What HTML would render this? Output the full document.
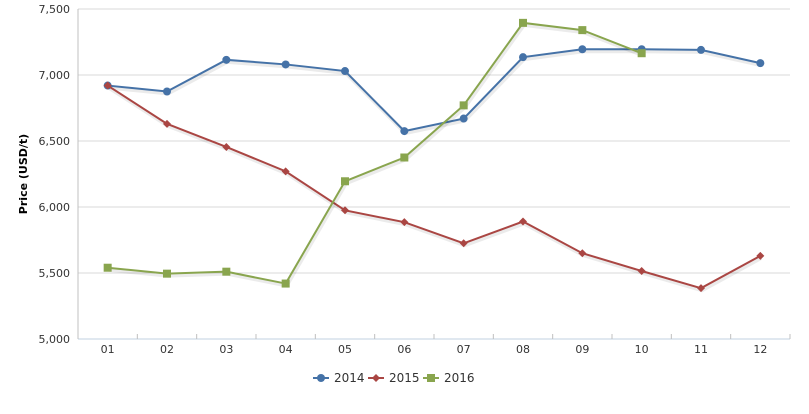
<!DOCTYPE html>
<html><head><meta charset="utf-8"><style>
body{margin:0;background:#fff;font-family:"DejaVu Sans","Liberation Sans",sans-serif;}
svg text{font-family:"DejaVu Sans","Liberation Sans",sans-serif;}
</style></head><body>
<svg id="chart" width="809" height="410" xmlns="http://www.w3.org/2000/svg"></svg>
<script>
const categories=["01","02","03","04","05","06","07","08","09","10","11","12"];
const s2014=[6920,6875,7115,7080,7030,6575,6670,7135,7195,7195,7190,7090];
const s2015=[6920,6630,6455,6270,5975,5885,5725,5890,5650,5515,5385,5630];
const s2016=[5540,5495,5510,5420,6195,6375,6770,7395,7340,7165];
const yTicks=[5000,5500,6000,6500,7000,7500];
const yTickLabels=["5,000","5,500","6,000","6,500","7,000","7,500"];
const seriesNames=["2014","2015","2016"];
const NS="http://www.w3.org/2000/svg";
const svg=document.getElementById('chart');
const L=78,R=790,T=9,B=339,yMin=5000,yMax=7500;
const cw=(R-L)/categories.length;
const x=i=>L+cw*(i+0.5);
const y=v=>B-(v-yMin)/(yMax-yMin)*(B-T);
function el(tag,attrs,parent){const e=document.createElementNS(NS,tag);for(const k in attrs)e.setAttribute(k,attrs[k]);(parent||svg).appendChild(e);return e;}
yTicks.forEach((t,i)=>{
 const g=el('line',{x1:L,x2:R,y1:y(t),y2:y(t),stroke:i===0?'#c0d0e0':'#d8d8d8','stroke-width':1});
 
 
 const tx=el('text',{x:L-8,y:y(t)+4,'text-anchor':'end','font-size':11,fill:'#333'});
 tx.textContent=yTickLabels[i];
 
 
});
const ax=el('line',{x1:L,x2:L,y1:T,y2:B,stroke:'#c0c0c0'});


categories.forEach((c,i)=>{
 const tk=el('line',{x1:L+cw*(i+1),x2:L+cw*(i+1),y1:B,y2:B-5,stroke:'#c0c0c0'});
 
 
 const t=el('text',{x:x(i),y:B+14,'text-anchor':'middle','font-size':11,fill:'#333'});
 t.textContent=c;
 
 
});
const yt=el('text',{x:0,y:0,transform:'translate(27,174) rotate(-90)','text-anchor':'middle','font-size':11,'font-weight':'bold',fill:'#000'});
yt.textContent='Price (USD/t)';


const colors=['#4572a7','#aa4643','#89a54e'];
const data=[s2014,s2015,s2016];
function marker(type,cx,cy,col,parent){
 if(type===0)return el('circle',{cx:cx,cy:cy,r:4,fill:col},parent);
 if(type===1)return el('path',{d:`M${cx} ${cy-4}L${cx+4} ${cy}L${cx} ${cy+4}L${cx-4} ${cy}Z`,fill:col},parent);
 return el('rect',{x:cx-4,y:cy-4,width:8,height:8,fill:col},parent);
}
data.forEach((s,k)=>{
 const g=el('g',{});
 
 
 const pts=s.map((v,i)=>x(i)+','+y(v)).join(' ');
 el('polyline',{points:s.map((v,i)=>x(i)+1+','+(y(v)+2)).join(' '),fill:'none',stroke:'rgba(0,0,0,0.08)','stroke-width':4},g);
 el('polyline',{points:pts,fill:'none',stroke:colors[k],'stroke-width':2},g);
 s.forEach((v,i)=>{
  const m=marker(k,x(i),y(v),colors[k],g);
  
  
 });
});
const lx=[313,368,423];
seriesNames.forEach((n,k)=>{
 const g=el('g',{});
 
 
 el('line',{x1:lx[k],x2:lx[k]+16,y1:378,y2:378,stroke:colors[k],'stroke-width':2},g);
 marker(k,lx[k]+8,378,colors[k],g);
 const t=el('text',{x:lx[k]+21,y:382,'font-size':12,fill:'#333'},g);
 t.textContent=n;
});
</script>
</body></html>
